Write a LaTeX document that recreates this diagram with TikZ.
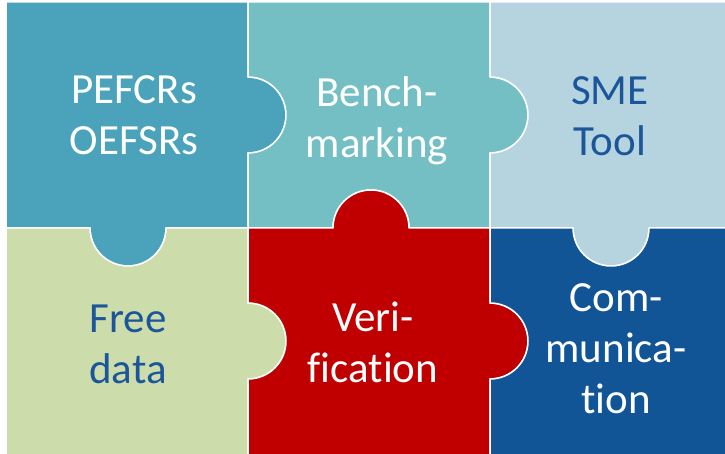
\documentclass[tikz,border=0pt]{standalone}
\usepackage{fontspec}
\setmainfont{Carlito}[Ligatures=NoCommon]
\definecolor{cpef}{HTML}{4AA3BA}
\definecolor{cbench}{HTML}{74BFC4}
\definecolor{csme}{HTML}{B5D4E0}
\definecolor{cfree}{HTML}{CDDCAB}
\definecolor{cverif}{HTML}{C00000}
\definecolor{ccomm}{HTML}{125597}
\definecolor{darktext}{HTML}{1B559A}

\begin{document}
\begin{tikzpicture}[x=1pt,y=1pt,
		piece/.style={draw=white,line width=1.5pt,line join=round},
		lbl/.style={align=center,font=\fontsize{43}{51}\selectfont,inner sep=0pt}]
		\useasboundingbox (0,0) rectangle (725,453);
		\clip (0,0) rectangle (725,453);
		
		% top row
		\draw[piece,fill=cpef] (6,451) -- (248,451) -- (248,376) arc[start angle=90,end angle=-90,radius=38]
			-- (248,225) -- (166,225) arc[start angle=0,end angle=-180,radius=38] -- (6,225) -- cycle;
		\draw[piece,fill=cbench] (248,451) -- (490,451) -- (490,376) arc[start angle=90,end angle=-90,radius=38]
			-- (490,225) -- (409,225) arc[start angle=0,end angle=180,radius=38] -- (248,225)
			-- (248,300) arc[start angle=-90,end angle=90,radius=38] -- cycle;
		\draw[piece,fill=csme] (490,451) -- (730,451) -- (730,225) -- (649,225) arc[start angle=0,end angle=-180,radius=38]
			-- (490,225) -- (490,300) arc[start angle=-90,end angle=90,radius=38] -- cycle;
		
		% bottom row
		\draw[piece,fill=cfree] (6,225) -- (90,225) arc[start angle=180,end angle=360,radius=38] -- (248,225)
			-- (248,150) arc[start angle=90,end angle=-90,radius=38] -- (248,-5) -- (6,-5) -- cycle;
		\draw[piece,fill=cverif] (248,225) -- (333,225) arc[start angle=180,end angle=0,radius=38] -- (490,225)
			-- (490,150) arc[start angle=90,end angle=-90,radius=38] -- (490,-5) -- (248,-5)
			-- (248,74) arc[start angle=-90,end angle=90,radius=38] -- cycle;
		\draw[piece,fill=ccomm] (490,225) -- (573,225) arc[start angle=180,end angle=360,radius=38] -- (730,225)
			-- (730,-5) -- (490,-5) -- (490,74) arc[start angle=-90,end angle=90,radius=38] -- cycle;
		
		% labels
		\node[lbl,white] (pefcr) at (134,337.5) {PEFCRs\\OEFSRs};
		\node[lbl,white] (bench) at (377,332.3) {Bench-\\marking};
		\node[lbl,darktext] (sme) at (610,336.5) {SME\\Tool};
		\node[lbl,darktext] (free) at (128,108.5) {Free\\data};
		\node[lbl,white] (verif) at (373,110.5) {Veri-\\fication};
		\node[lbl,white] (comm) at (616,104.5) {Com-\\munica-\\tion};
	\end{tikzpicture}
\end{document}
